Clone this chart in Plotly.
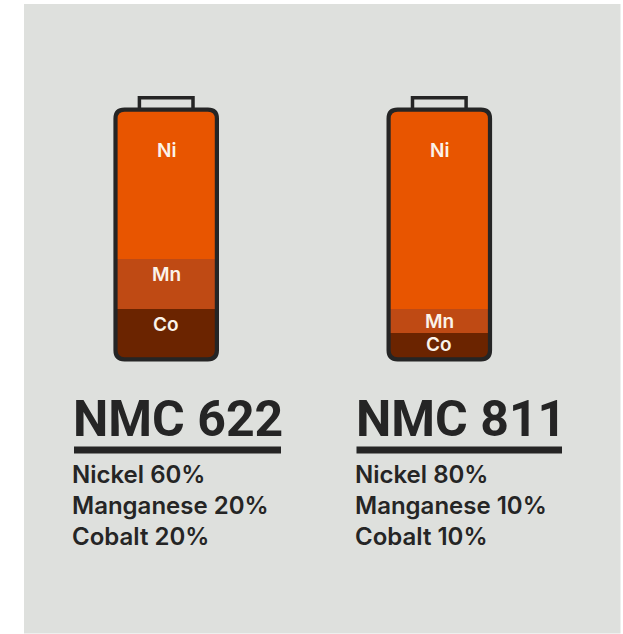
import plotly.graph_objects as go

# Cathode chemistries and their metal shares (percent)
chemistries = ["NMC 622", "NMC 811"]
nickel = [60, 80]
manganese = [20, 10]
cobalt = [20, 10]
metal_symbols = ["Co", "Mn", "Ni"]
metal_names = ["Nickel", "Manganese", "Cobalt"]

W, H = 623, 634
INK = "#252525"
PANEL = "#DEE0DD"
COLORS = {"Ni": "#E85500", "Mn": "#BF4A14", "Co": "#6B2400"}

CENTERS = [166.2, 439.3]
FILL_TOP, FILL_BOTTOM = 111, 358
PITCH = CENTERS[1] - CENTERS[0]
BAR_W = 99


def px(x):
    return x / W


def py(y):
    return 1 - y / H


def rounded_rect(x0, y0, x1, y1, r):
    pts = [
        f"M{px(x0 + r)},{py(y0)}", f"L{px(x1 - r)},{py(y0)}", f"Q{px(x1)},{py(y0)} {px(x1)},{py(y0 + r)}",
        f"L{px(x1)},{py(y1 - r)}", f"Q{px(x1)},{py(y1)} {px(x1 - r)},{py(y1)}",
        f"L{px(x0 + r)},{py(y1)}", f"Q{px(x0)},{py(y1)} {px(x0)},{py(y1 - r)}",
        f"L{px(x0)},{py(y0 + r)}", f"Q{px(x0)},{py(y0)} {px(x0 + r)},{py(y0)}", "Z",
    ]
    return " ".join(pts)


fig = go.Figure()
series = {"Co": cobalt, "Mn": manganese, "Ni": nickel}
for sym in metal_symbols:
    fig.add_bar(
        x=chemistries, y=series[sym], name=sym,
        marker=dict(color=COLORS[sym], line=dict(width=0)),
        hoverinfo="x+y+name",
    )

shapes = [dict(type="rect", xref="paper", yref="paper", x0=px(24), x1=px(620.5), y0=py(633.5), y1=py(4),
               fillcolor=PANEL, line_width=0, layer="below")]
annotations = []


def text(x, y, s, size, color, weight, anchor="center", family="Inter"):
    annotations.append(dict(
        xref="paper", yref="paper", x=px(x), y=py(y), text=s, showarrow=False,
        xanchor=anchor, yanchor="middle", borderpad=0,
        font=dict(family=family, size=size, color=color, weight=weight),
    ))


# Pixel positions of the in-battery labels per chemistry
label_y = [{"Ni": 151, "Mn": 274, "Co": 324}, {"Ni": 151, "Mn": 322, "Co": 345}]
title_x = [71.5, 354.5]
rule_x = [(74, 281), (356.5, 562)]
list_x = [71, 354]

for i, name in enumerate(chemistries):
    c = CENTERS[i]
    # Battery body and terminal
    shapes.append(dict(type="path", xref="paper", yref="paper", layer="above",
                       path=rounded_rect(c - 50.7, 109.7, c + 50.7, 359.3, 9),
                       line=dict(color=INK, width=4.2)))
    shapes.append(dict(type="path", xref="paper", yref="paper", layer="above",
                       path=f"M{px(c - 26.8)},{py(108)} L{px(c - 26.8)},{py(97.7)} "
                            f"L{px(c + 26.8)},{py(97.7)} L{px(c + 26.8)},{py(108)}",
                       line=dict(color=INK, width=3.5)))
    for sym, y in label_y[i].items():
        text(c, y, sym, 19, "#FBF3EA", 600)
    # Heading, rule and composition list
    text(title_x[i], 419, name, 50, INK, 700, "left", "Roboto")
    shapes.append(dict(type="rect", xref="paper", yref="paper", x0=px(rule_x[i][0]), x1=px(rule_x[i][1]),
                       y0=py(453.5), y1=py(446.5), fillcolor=INK, line_width=0))
    shares = [nickel[i], manganese[i], cobalt[i]]
    for j, (metal, share) in enumerate(zip(metal_names, shares)):
        text(list_x[i], 474 + j * 31, f"{metal} {share}%", 24, INK, 600, "left")

fig.update_layout(
    width=W, height=H, autosize=False, margin=dict(l=0, r=0, t=0, b=0, pad=0),
    paper_bgcolor="white", plot_bgcolor="rgba(0,0,0,0)",
    barmode="stack", bargap=1 - BAR_W / PITCH, showlegend=False,
    xaxis=dict(domain=[px(CENTERS[0] - PITCH / 2), px(CENTERS[1] + PITCH / 2)],
               range=[-0.5, 1.5], visible=False),
    yaxis=dict(domain=[py(FILL_BOTTOM), py(FILL_TOP)], range=[0, 100], visible=False),
    shapes=shapes, annotations=annotations,
)
fig.write_html("out.html", config={"displayModeBar": False})
